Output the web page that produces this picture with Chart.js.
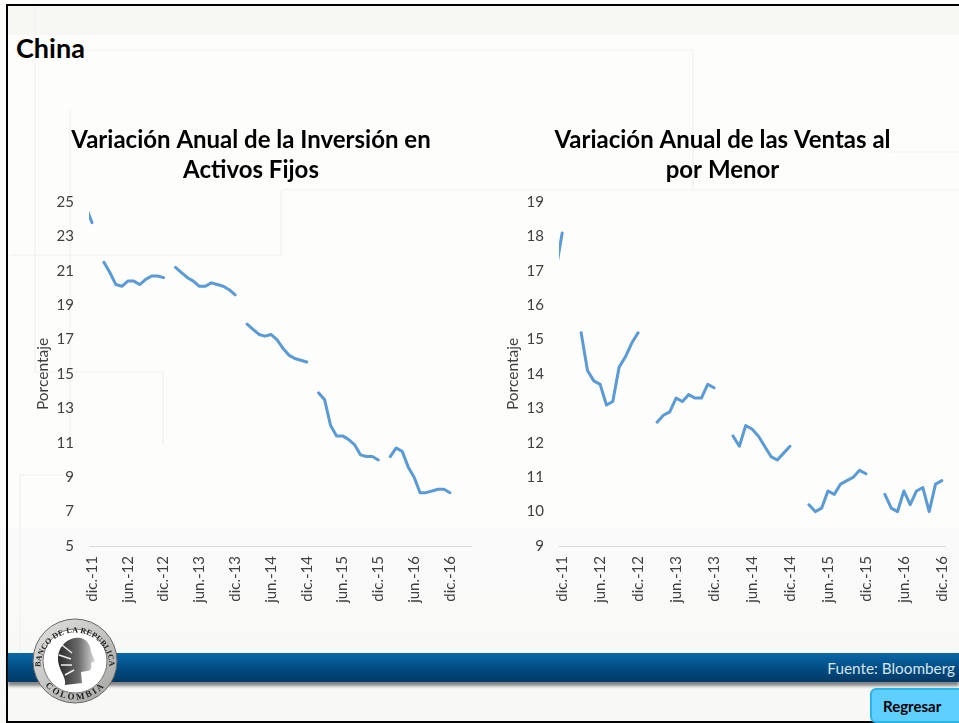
<!DOCTYPE html>
<html lang="es">
<head>
<meta charset="UTF-8">
<title>China</title>
<script src="https://cdn.jsdelivr.net/npm/chart.js"></script>
<style>
    html, body { margin: 0; padding: 0; }
    body {
        width: 959px; height: 723px; position: relative; overflow: hidden;
        font-family: Lato, sans-serif;
        background: linear-gradient(#fdfdfc 0, #fdfdfc 528px, #fafafa 528px, #f8f8f6 723px);
    }
    .top-band { position: absolute; left: 8px; top: 6px; width: 951px; height: 29px; background: #f7f8f4; }
    .frame { position: absolute; left: 6px; top: 4px; width: 960px; height: 715px; border: 2px solid #000; }
    .fondo { position: absolute; left: 0; top: 0; }
    h1 { position: absolute; left: 16px; top: 33px; margin: 0; font-size: 27px; line-height: 30px; font-weight: 700; color: #000; }
    .chart { position: absolute; top: 120px; height: 510px; }
    .band {
        position: absolute; left: 8px; top: 653px; width: 951px; height: 29px;
        background: linear-gradient(#0a69a8, #004a80 55%, #013a66);
        box-shadow: 0 4px 3px rgba(70, 70, 70, .65);
    }
    .fuente { position: absolute; right: 4px; top: 658px; font-size: 15.3px; line-height: 20px; color: #d6e4ef; }
    .regresar {
        position: absolute; left: 870px; top: 688px; width: 95px; height: 35px; box-sizing: border-box;
        background: #5fcfff; border: 2px solid #2ab4ea; border-radius: 6px;
        font-size: 15px; font-weight: 700; color: #000; line-height: 32px; padding-left: 11px;
    }
    .logo { position: absolute; left: 28px; top: 615px; }
</style>
</head>
<body>
    <div class="top-band"></div>
    <svg class="fondo" width="959" height="723" fill="none" stroke="#f1f1ef" stroke-width="1.2">
        <path d="M35 6V372M14 50H693V190M70 110V445M282 190H959M10 255H281V190M35 372H163V445M20 650V475H70M890 152H959"/>
    </svg>
    <div class="frame"></div>
    <h1>China</h1>

    <div class="chart" style="left:30px;width:442px"><canvas id="chart-inversion" width="442" height="510"></canvas></div>
    <div class="chart" style="left:500px;width:459px"><canvas id="chart-ventas" width="459" height="510"></canvas></div>

    <div class="band"></div>
    <div class="fuente">Fuente: Bloomberg</div>
    <div class="regresar">Regresar</div>

    <svg class="logo" width="94" height="94" viewBox="0 0 94 94">
        <defs>
            <linearGradient id="anillo" x1="0" y1="0" x2="1" y2="1">
                <stop offset="0" stop-color="#e2e2e0"/>
                <stop offset="1" stop-color="#a5a5a2"/>
            </linearGradient>
            <linearGradient id="cabeza" x1="0" y1="0" x2="1" y2="0">
                <stop offset="0" stop-color="#2b2b2b"/>
                <stop offset=".55" stop-color="#6a6a6a"/>
                <stop offset="1" stop-color="#d8d8d8"/>
            </linearGradient>
            <path id="arco-sup" d="M10 52A37 37 0 1 1 84 52"/>
            <path id="arco-inf" d="M14 60A36 36 0 0 0 80 60"/>
        </defs>
        <circle cx="47" cy="46" r="42" fill="url(#anillo)" stroke="#666" stroke-width="1"/>
        <circle cx="47" cy="46" r="32" fill="#fff" stroke="#777" stroke-width="1"/>
        <text font-family="Liberation Serif" font-weight="700" font-size="8" fill="#222" letter-spacing=".55" dy="2.5">
            <textPath href="#arco-sup" startOffset="50%" text-anchor="middle">BANCO DE LA REPUBLICA</textPath>
        </text>
        <text font-family="Liberation Serif" font-weight="700" font-size="9" fill="#222" letter-spacing="1.5" dy="3">
            <textPath href="#arco-inf" startOffset="50%" text-anchor="middle">COLOMBIA</textPath>
        </text>
        <path d="M30 42C31 28 44 21 53 23C60 25 63 32 63 37L67 46L63 48C64 53 63 56 59 56L53 57L54 68L37 70C39 62 29 54 30 42Z" fill="url(#cabeza)"/>
        <path d="M34 30L44 38M31 40L43 44M33 50L44 50M37 60L46 55" stroke="#eee" stroke-width="1.5" fill="none"/>
    </svg>

<script>
    // nov.-11 queda fuera del area visible, solo se ve el trazo recortado
    const meses = [
        'nov.-11', 'dic.-11',
        'ene.-12', 'feb.-12', 'mar.-12', 'abr.-12', 'may.-12', 'jun.-12', 'jul.-12', 'ago.-12', 'sep.-12', 'oct.-12', 'nov.-12', 'dic.-12',
        'ene.-13', 'feb.-13', 'mar.-13', 'abr.-13', 'may.-13', 'jun.-13', 'jul.-13', 'ago.-13', 'sep.-13', 'oct.-13', 'nov.-13', 'dic.-13',
        'ene.-14', 'feb.-14', 'mar.-14', 'abr.-14', 'may.-14', 'jun.-14', 'jul.-14', 'ago.-14', 'sep.-14', 'oct.-14', 'nov.-14', 'dic.-14',
        'ene.-15', 'feb.-15', 'mar.-15', 'abr.-15', 'may.-15', 'jun.-15', 'jul.-15', 'ago.-15', 'sep.-15', 'oct.-15', 'nov.-15', 'dic.-15',
        'ene.-16', 'feb.-16', 'mar.-16', 'abr.-16', 'may.-16', 'jun.-16', 'jul.-16', 'ago.-16', 'sep.-16', 'oct.-16', 'nov.-16', 'dic.-16'
    ];
    const etiquetas = ['dic.-11', 'jun.-12', 'dic.-12', 'jun.-13', 'dic.-13', 'jun.-14', 'dic.-14', 'jun.-15', 'dic.-15', 'jun.-16', 'dic.-16'];

    const inversion = [
        24.7, 23.8,
        null, 21.5, 20.9, 20.2, 20.1, 20.4, 20.4, 20.2, 20.5, 20.7, 20.7, 20.6,
        null, 21.2, 20.9, 20.6, 20.4, 20.1, 20.1, 20.3, 20.2, 20.1, 19.9, 19.6,
        null, 17.9, 17.6, 17.3, 17.2, 17.3, 17.0, 16.5, 16.1, 15.9, 15.8, 15.7,
        null, 13.9, 13.5, 12.0, 11.4, 11.4, 11.2, 10.9, 10.3, 10.2, 10.2, 10.0,
        null, 10.2, 10.7, 10.5, 9.6, 9.0, 8.1, 8.1, 8.2, 8.3, 8.3, 8.1
    ];
    const ventas = [
        17.0, 18.1,
        null, null, 15.2, 14.1, 13.8, 13.7, 13.1, 13.2, 14.2, 14.5, 14.9, 15.2,
        null, null, 12.6, 12.8, 12.9, 13.3, 13.2, 13.4, 13.3, 13.3, 13.7, 13.6,
        null, null, 12.2, 11.9, 12.5, 12.4, 12.2, 11.9, 11.6, 11.5, 11.7, 11.9,
        null, null, 10.2, 10.0, 10.1, 10.6, 10.5, 10.8, 10.9, 11.0, 11.2, 11.1,
        null, null, 10.5, 10.1, 10.0, 10.6, 10.2, 10.6, 10.7, 10.0, 10.8, 10.9
    ];

    const tituloInversion = ['Variación Anual de la Inversión en', 'Activos Fijos'];
    const tituloVentas = ['Variación Anual de las Ventas al', 'por Menor'];

    function crearGrafico(id, titulo, valores, yMin, yMax, paso, xMax, margenDer) {
        return new Chart(document.getElementById(id), {
            type: 'line',
            data: {
                datasets: [{
                    data: meses.map((m, i) => ({ x: i - 1, y: valores[i] })),
                    borderColor: '#5b9bd5',
                    borderWidth: 3,
                    borderCapStyle: 'round',
                    borderJoinStyle: 'round',
                    pointRadius: 0,
                    tension: 0,
                    spanGaps: false,
                    clip: 0
                }]
            },
            options: {
                responsive: false,
                animation: false,
                layout: { padding: { right: margenDer } },
                plugins: {
                    legend: { display: false },
                    tooltip: { enabled: false },
                    title: {
                        display: true,
                        text: titulo,
                        color: '#000',
                        font: { family: 'Lato', size: 24, weight: '700', lineHeight: 1.25 },
                        padding: { top: 5, bottom: 17 }
                    }
                },
                scales: {
                    x: {
                        type: 'linear',
                        min: -0.5,
                        max: xMax,
                        afterBuildTicks: s => { s.ticks = etiquetas.map(e => ({ value: meses.indexOf(e) - 1 })); },
                        afterFit: s => { s.height = 84; s.paddingLeft = 0; s.paddingRight = 0; },
                        grid: { display: false, drawTicks: false },
                        border: { display: true, color: '#d9d9d9', width: 1 },
                        ticks: {
                            autoSkip: false,
                            minRotation: 90,
                            maxRotation: 90,
                            padding: 10,
                            color: '#404040',
                            font: { family: 'Lato', size: 15 },
                            callback: v => meses[v + 1]
                        }
                    },
                    y: {
                        min: yMin,
                        max: yMax,
                        afterFit: s => { s.width = 59; },
                        grid: { display: false, drawTicks: false },
                        border: { display: false },
                        title: {
                            display: true,
                            text: 'Porcentaje',
                            color: '#404040',
                            font: { family: 'Lato', size: 15.5 },
                            padding: { top: 4, bottom: 0 }
                        },
                        ticks: {
                            stepSize: paso,
                            padding: 15,
                            color: '#404040',
                            font: { family: 'Lato', size: 15 }
                        }
                    }
                }
            }
        });
    }

    crearGrafico('chart-inversion', tituloInversion, inversion, 5, 25, 2, 63.7, 0);
    crearGrafico('chart-ventas', tituloVentas, ventas, 9, 19, 1, 60.5, 14);
</script>
</body>
</html>
